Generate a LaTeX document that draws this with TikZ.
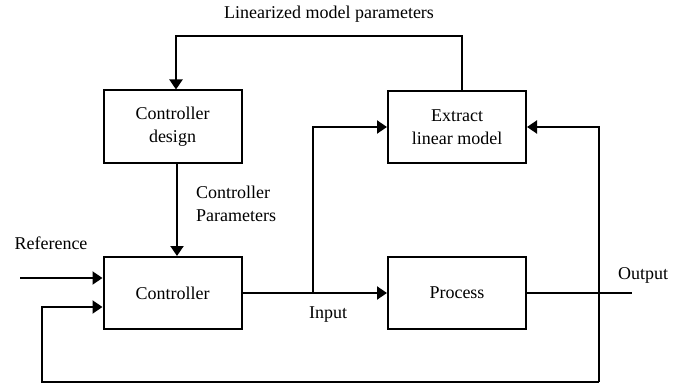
\documentclass[tikz,border=0pt]{standalone}
\usepackage{fontspec}
\setmainfont{Liberation Serif}
\usetikzlibrary{arrows.meta}
\begin{document}
\begin{tikzpicture}[x=1pt,y=-1pt,
  every node/.style={font=\fontsize{18}{23}\selectfont},
  blk/.style={draw,line width=2pt,minimum width=138pt,minimum height=72pt,align=center,inner sep=0pt},
  conn/.style={line width=2pt},
  arr/.style={conn,-{Triangle[length=10pt,width=13pt]}},
  lbl/.style={inner sep=0pt}]
\useasboundingbox (0,0) rectangle (685,385);
\node[blk] (cd) at (172.5,126.5) {Controller\\design};
\node[blk] (ex) at (457,127) {Extract\\linear model};
\node[blk] (ctrl) at (172.5,293) {Controller};
\node[blk] (pr) at (457,293) {Process};
\coordinate (ax) at (177,0);
\coordinate (t1) at (462,36);
\coordinate (t2) at (176,36);
\coordinate (ref) at (20,278);
\coordinate (fb) at (42,307);
\coordinate (fbb) at (42,382);
\coordinate (oj) at (599,293);
\coordinate (ojb) at (599,382);
\coordinate (ojt) at (599,127);
\coordinate (oe) at (632,293);
\coordinate (br) at (313,293);
\coordinate (brt) at (313,127);
% connectors
\draw[arr] (ex.north -| t1) -- (t1) -- (t2) -- (cd.north -| t2);
\draw[arr] (cd.south -| ax) -- (ctrl.north -| ax);
\draw[arr] (ref) -- (ref -| ctrl.west);
\draw[arr] (ctrl.east |- br) -- (pr.west |- br);
\draw[arr] (br) -- (brt) -- (ex.west |- brt);
\draw[conn] (pr.east |- oj) -- (oe);
\draw[arr] (ojb) -- (ojt) -- (ex.east |- ojt);
\draw[arr] (ojb) -- (fbb) -- (fb) -- (ctrl.west |- fb);
% labels
\node[lbl] (l1) at (329,14) {Linearized model parameters};
\node[lbl,align=left,anchor=north west] (l2) at (196,186) {Controller\\Parameters};
\node[lbl] (l3) at (51,243) {Reference};
\node[lbl] (l4) at (328,315) {Input};
\node[lbl] (l5) at (643,275) {Output};
\end{tikzpicture}
\end{document}
